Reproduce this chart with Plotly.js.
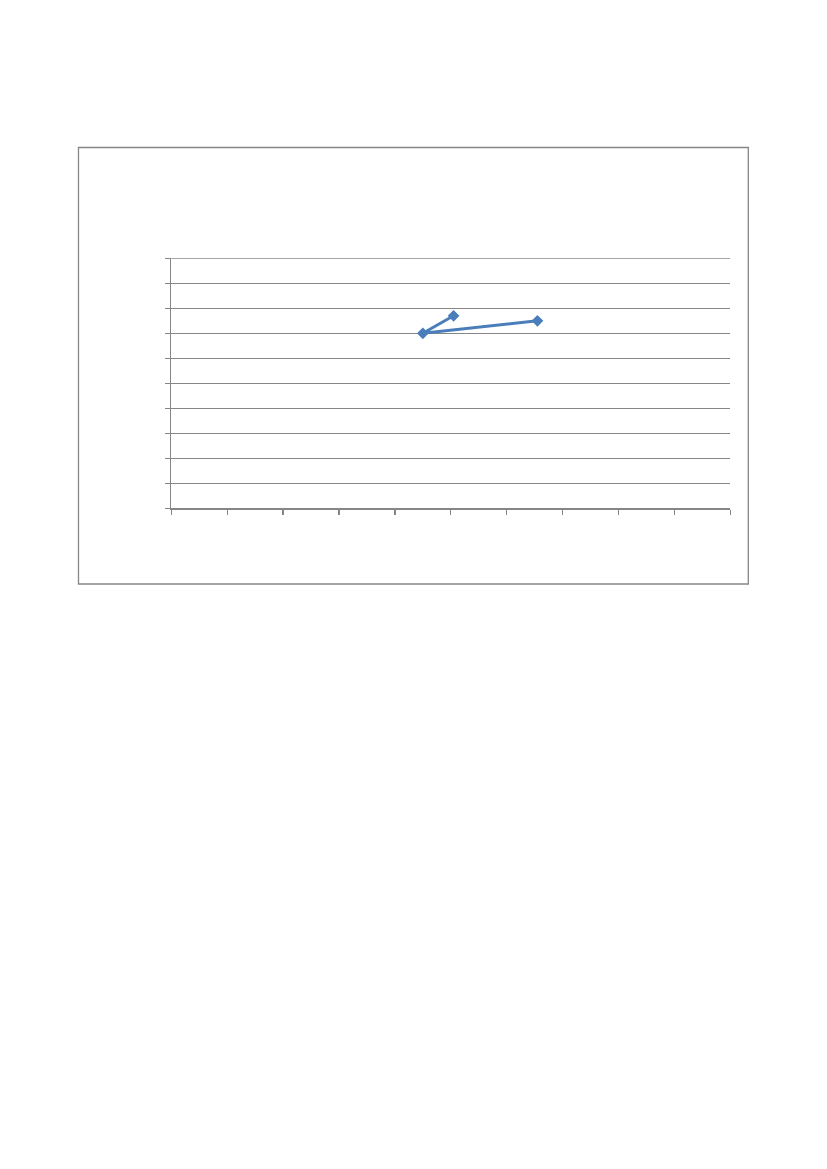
<!DOCTYPE html>
<html>
<head>
<meta charset="utf-8">
<script src="https://cdn.plot.ly/plotly-3.0.1.min.js"></script>
<style>
html,body{margin:0;padding:0;background:#fff;}
#chart{width:827px;height:1169px;}
</style>
</head>
<body>
<div id="chart"></div>
<script>
// Data (axis units: 0-10 on both axes, no labels shown)
const xValues = [5.05, 4.5, 6.55];
const yValues = [7.7, 7.0, 7.5];
const xTickValues = [0,1,2,3,4,5,6,7,8,9,10];
const yTickValues = [0,1,2,3,4,5,6,7,8,9,10];

const W = 827, H = 1169;
const plotLeft = 171.3, plotRight = 730.3, plotTop = 258.3, plotBottom = 508.3;
const boxL = 78.5, boxR = 748.3, boxT = 147.5, boxB = 584;

const trace = {
  x: xValues,
  y: yValues,
  type: 'scatter',
  mode: 'lines+markers',
  line: {color: '#4a7ebb', width: 3},
  marker: {symbol: 'diamond', size: 9, color: '#4a7ebb'},
  showlegend: false,
  hoverinfo: 'skip'
};

const gridColor = '#868686';
const yMax = yTickValues[yTickValues.length - 1];

const layout = {
  width: W, height: H,
  margin: {l: 0, r: 0, t: 0, b: 0},
  paper_bgcolor: '#ffffff',
  plot_bgcolor: '#ffffff',
  showlegend: false,
  xaxis: {
    domain: [plotLeft / W, plotRight / W],
    range: [0, 10],
    tickmode: 'array',
    tickvals: xTickValues,
    showticklabels: false,
    showgrid: false,
    zeroline: false,
    showline: true,
    linecolor: gridColor,
    linewidth: 1.3,
    ticks: 'outside',
    ticklen: 5,
    tickcolor: gridColor,
    tickwidth: 1.3,
    fixedrange: true
  },
  yaxis: {
    domain: [1 - plotBottom / H, 1 - plotTop / H],
    range: [0, 10],
    tickmode: 'array',
    tickvals: yTickValues,
    showticklabels: false,
    showgrid: true,
    gridcolor: gridColor,
    gridwidth: 1.3,
    zeroline: false,
    showline: true,
    linecolor: gridColor,
    linewidth: 1.3,
    ticks: 'outside',
    ticklen: 5,
    tickcolor: gridColor,
    tickwidth: 1.3,
    fixedrange: true
  },
  shapes: [{
    type: 'rect', xref: 'paper', yref: 'paper',
    x0: boxL / W, x1: boxR / W,
    y0: 1 - boxB / H, y1: 1 - boxT / H,
    line: {color: gridColor, width: 1.3},
    fillcolor: 'rgba(0,0,0,0)'
  }, {
    type: 'line', xref: 'x domain', yref: 'y',
    x0: 0, x1: 1, y0: yMax, y1: yMax,
    line: {color: gridColor, width: 1.3},
    layer: 'below'
  }]
};

Plotly.newPlot('chart', [trace], layout, {displayModeBar: false, staticPlot: true});
</script>
</body>
</html>
